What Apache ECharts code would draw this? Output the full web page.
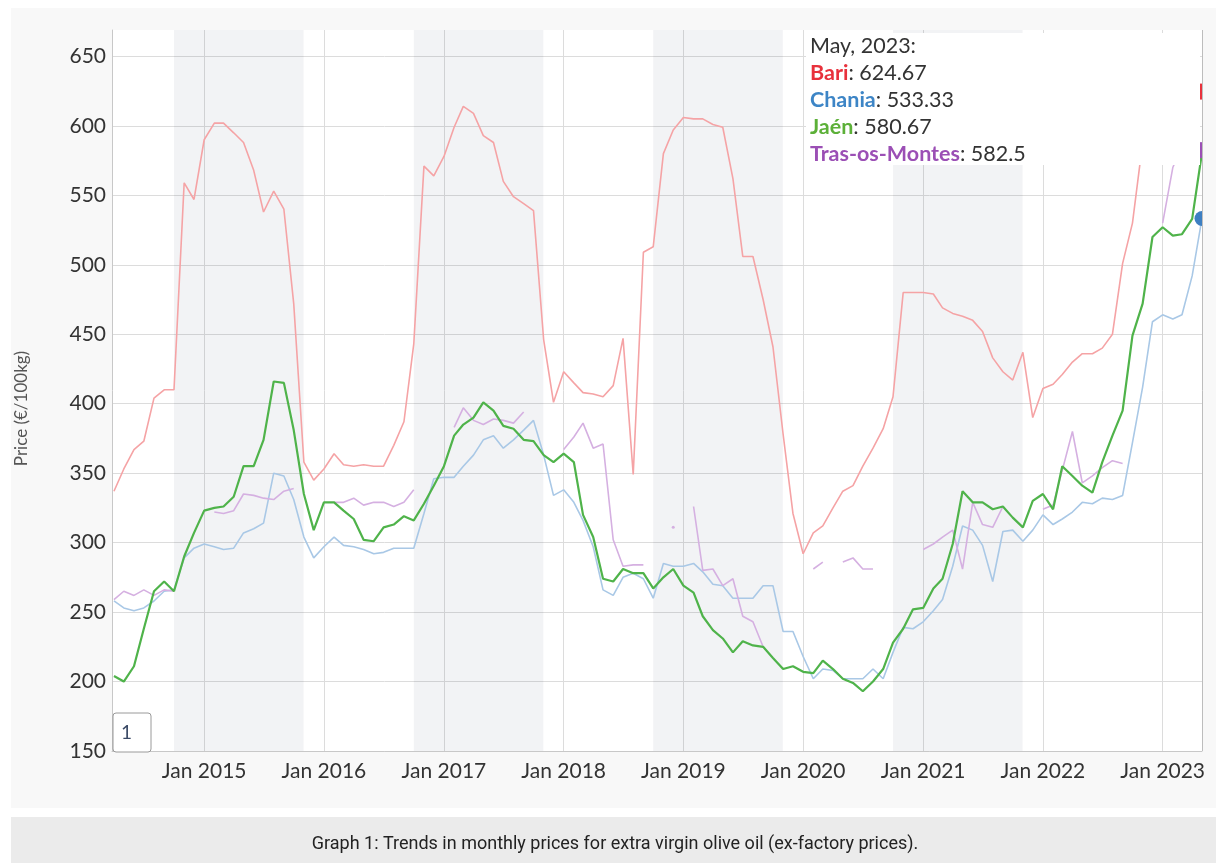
<!DOCTYPE html>
<html>
<head>
<meta charset="utf-8">
<script src="https://cdn.jsdelivr.net/npm/echarts@6/dist/echarts.min.js"></script>
<style>
  html, body { margin: 0; padding: 0; background: #fff; }
  #chart { width: 1216px; height: 863px; }
</style>
</head>
<body>
<div id="chart"></div>
<script>
// monthly ex-factory prices, Apr 2014 .. May 2023 (EUR/100kg)
const startYear = 2014
const startMonth = 4

const bari = [337, 353, 367, 373, 404, 410, 410, 559, 547, 590, 602, 602, 595, 588, 568, 538, 553, 540, 472, 358,
  345, 353, 364, 356, 355, 356, 355, 355, 370, 387, 443, 571, 564, 578, 599, 614, 609, 593, 588, 560,
  549, 544, 539, 446, 401, 423, 415, 408, 407, 405, 413, 447, 349, 509, 513, 580, 597, 606, 605, 605,
  601, 599, 562, 506, 506, 475, 441, 378, 321, 292, 307, 312, 325, 337, 341, 355, 368, 382, 405, 480,
  480, 480, 479, 469, 465, 463, 460, 452, 433, 423, 417, 437, 390, 411, 414, 421, 430, 436, 436, 440,
  450, 501, 530, 588, 610, 618, 615, 620, 622, 624.67]

const chania = [258, 253, 251, 253, 258, 265, 266, 289, 296, 299, 297, 295, 296, 307, 310, 314, 350, 348, 331, 304,
  289, 297, 304, 298, 297, 295, 292, 293, 296, 296, 296, 321, 346, 347, 347, 355, 363, 374, 377, 368,
  374, 381, 388, 363, 334, 338, 329, 316, 297, 266, 262, 275, 278, 274, 260, 285, 283, 283, 285, 279,
  270, 269, 260, 260, 260, 269, 269, 236, 236, 218, 202, 209, 208, 202, 202, 202, 209, 202, 221, 239,
  238, 243, 251, 259, 283, 312, 309, 298, 272, 308, 309, 301, 309, 320, 313, 317, 322, 329, 328, 332,
  331, 334, 372, 412, 459, 464, 461, 464, 492, 533.33]

const jaen = [204, 200, 211, 238, 265, 272, 265, 290, 307, 323, 325, 326, 333, 355, 355, 374, 416, 415, 381, 335,
  309, 329, 329, 323, 317, 302, 301, 311, 313, 319, 316, 328, 341, 355, 377, 385, 390, 401, 395, 384,
  382, 374, 373, 363, 358, 364, 358, 320, 304, 274, 272, 281, 278, 278, 267, 275, 281, 269, 264, 247,
  237, 231, 221, 229, 226, 225, 217, 209, 211, 207, 206, 215, 209, 202, 199, 193, 200, 209, 228, 238,
  252, 253, 267, 274, 299, 337, 329, 329, 324, 326, 318, 311, 330, 335, 324, 355, 348, 341, 336, 358,
  377, 395, 449, 472, 520, 527, 521, 522, 533, 580.67]

const trasOsMontes = [259, 265, 262, 266, 262, 266, 265, null, null, null, 322, 321, 323, 335, 334, 332, 331, 337, 339, null,
  null, null, 329, 329, 332, 327, 329, 329, 326, 329, 338, null, null, null, 383, 397, 388, 385, 389, 388,
  386, 394, null, null, null, 367, 376, 386, 368, 371, 302, 283, 284, 284, null, null, 311, null, 326, 280,
  281, 269, 274, 247, 243, 225, null, null, null, null, 281, 286, null, 286, 289, 281, 281, null, null, null,
  null, 295, 299, 304, 309, 281, 329, 313, 311, 326, null, null, null, 324, 327, 352, 380, 343, 348, 354,
  359, 357, null, null, null, 530, 570, 585, 583, 582.5]

// crop years shaded in grey [from, to] as [year, month, day]
const bands = [[[2014, 10, 1], [2015, 10, 31]], [[2016, 10, 1], [2017, 10, 31]],
  [[2018, 10, 1], [2019, 10, 31]], [[2020, 10, 1], [2021, 10, 31]]]
const yearTicks = [2015, 2016, 2017, 2018, 2019, 2020, 2021, 2022, 2023]
const priceTicks = [150, 200, 250, 300, 350, 400, 450, 500, 550, 600, 650]

const ts = (y, m, d) => Date.UTC(y, m - 1, d || 1)
const months = bari.map((_, i) => {
  const m = startMonth - 1 + i
  return ts(startYear + Math.floor(m / 12), m % 12 + 1)
})
const last = months.length - 1

const FONT = 'Lato'
const colors = {
  bari: '#f5a3a5', chania: '#a9c8e6', jaen: '#4fb34a', tras: '#d5b0e1',
}

function toData(values, marks) {
  return values.map((v, i) => {
    const item = { value: [months[i], v] }
    if (marks && marks[i]) Object.assign(item, marks[i])
    return item
  })
}

function lineSeries(name, values, color, width, marks) {
  return {
    name,
    type: 'line',
    data: toData(values, marks),
    symbol: 'none',
    showSymbol: true,
    connectNulls: false,
    lineStyle: { color, width },
    itemStyle: { color },
    emphasis: { disabled: true },
    silent: true,
    animation: false,
  }
}

const series = [
  Object.assign(lineSeries('Bari', bari, colors.bari, 1.6, {
    [last]: { symbol: 'rect', symbolSize: [12, 16], itemStyle: { color: '#e8313c' } },
  }), {
    markArea: {
      silent: true,
      itemStyle: { color: 'rgba(0, 20, 60, 0.05)' },
      data: bands.map(b => [{ xAxis: ts(...b[0]) }, { xAxis: ts(...b[1]) }]),
    },
  }),
  lineSeries('Chania', chania, colors.chania, 1.6, {
    [last]: { symbol: 'circle', symbolSize: 15, itemStyle: { color: '#3d7fc2' } },
  }),
  lineSeries('Tras-os-Montes', trasOsMontes, colors.tras, 1.6, {
    56: { symbol: 'circle', symbolSize: 3 },
    [last]: { symbol: 'rect', symbolSize: [12, 16], itemStyle: { color: '#9b4fb5' } },
  }),
  Object.assign(lineSeries('Jaén', jaen, colors.jaen, 2.2), {
    markLine: {
      silent: true,
      symbol: 'none',
      label: { show: false },
      lineStyle: { color: '#bdbdbd', type: 'solid', width: 1 },
      data: [{ xAxis: months[last] }],
    },
  }),
]

const chart = echarts.init(document.getElementById('chart'), null, { renderer: 'canvas' })
chart.setOption({
  backgroundColor: '#fff',
  animation: false,
  grid: { left: 112, right: 14, top: 30, bottom: 112, show: true, backgroundColor: '#fff', borderWidth: 0 },
  xAxis: {
    type: 'value',
    min: ts(2014, 3, 26),
    max: months[last],
    axisLine: { lineStyle: { color: '#c8c8c8' } },
    axisTick: { show: false, customValues: yearTicks.map(y => ts(y, 1)) },
    axisLabel: {
      customValues: yearTicks.map(y => ts(y, 1)),
      color: '#333', fontFamily: FONT, fontSize: 21, margin: 10,
      formatter: v => 'Jan ' + new Date(v).getUTCFullYear(),
    },
    splitLine: { show: true, lineStyle: { color: '#dcdcdc' } },
  },
  yAxis: {
    type: 'value',
    min: 150,
    max: 669,
    name: 'Price (€/100kg)',
    nameLocation: 'middle',
    nameGap: 82,
    nameTextStyle: { color: '#555', fontFamily: FONT, fontSize: 17, padding: [0, 36, 0, 0] },
    axisLine: { show: true, lineStyle: { color: '#c8c8c8' } },
    axisTick: { show: false, customValues: priceTicks },
    axisLabel: { customValues: priceTicks, color: '#333', fontFamily: FONT, fontSize: 21, margin: 6 },
    splitLine: { lineStyle: { color: '#dcdcdc' } },
  },
  series,
  graphic: [
    { type: 'rect', silent: true, z: -10, shape: { x: 11, y: 8, width: 1205, height: 800 }, style: { fill: '#f8f8f8' } },
    { type: 'rect', silent: true, z: -10, shape: { x: 11, y: 817, width: 1205, height: 46 }, style: { fill: '#ebebeb' } },
    {
      type: 'text', silent: true, z: 100, x: 615, y: 844,
      style: {
        text: 'Graph 1: Trends in monthly prices for extra virgin olive oil (ex-factory prices).',
        fill: '#222', font: '18px Roboto', align: 'center', verticalAlign: 'middle',
      },
    },
    // clip of the plot on the right edge
    { type: 'rect', silent: true, z: 90, shape: { x: 1203, y: 20, width: 13, height: 745 }, style: { fill: '#f8f8f8' } },
    // range selector box
    {
      type: 'rect', silent: true, z: 90, shape: { x: 113, y: 713, width: 38, height: 39, r: 3 },
      style: { fill: '#fff', stroke: '#9a9a9a', lineWidth: 1 },
    },
    {
      type: 'text', silent: true, z: 91, x: 121, y: 733,
      style: { text: '1', fill: '#3b4a66', font: '19px ' + FONT, verticalAlign: 'middle' },
    },
    // hover tooltip
    { type: 'rect', silent: true, z: 100, shape: { x: 806, y: 33, width: 394, height: 132 }, style: { fill: '#fff' } },
    {
      type: 'text', silent: true, z: 101, x: 810, y: 33,
      style: {
        text: [
          '{d|May, 2023:}',
          '{bari|Bari}{d|: ' + bari[last] + '}',
          '{chania|Chania}{d|: ' + chania[last] + '}',
          '{jaen|Jaén}{d|: ' + jaen[last] + '}',
          '{tras|Tras-os-Montes}{d|: ' + trasOsMontes[last] + '}',
        ].join('\n'),
        rich: {
          d: { fill: '#333', fontFamily: FONT, fontSize: 21.5, lineHeight: 26.8 },
          bari: { fill: '#e8313c', fontFamily: FONT, fontSize: 21.5, fontWeight: 'bold', lineHeight: 26.8 },
          chania: { fill: '#3d85c6', fontFamily: FONT, fontSize: 21.5, fontWeight: 'bold', lineHeight: 26.8 },
          jaen: { fill: '#5cb038', fontFamily: FONT, fontSize: 21.5, fontWeight: 'bold', lineHeight: 26.8 },
          tras: { fill: '#9b4fb5', fontFamily: FONT, fontSize: 21.5, fontWeight: 'bold', lineHeight: 26.8 },
        },
      },
    },
  ],
})
</script>
</body>
</html>
